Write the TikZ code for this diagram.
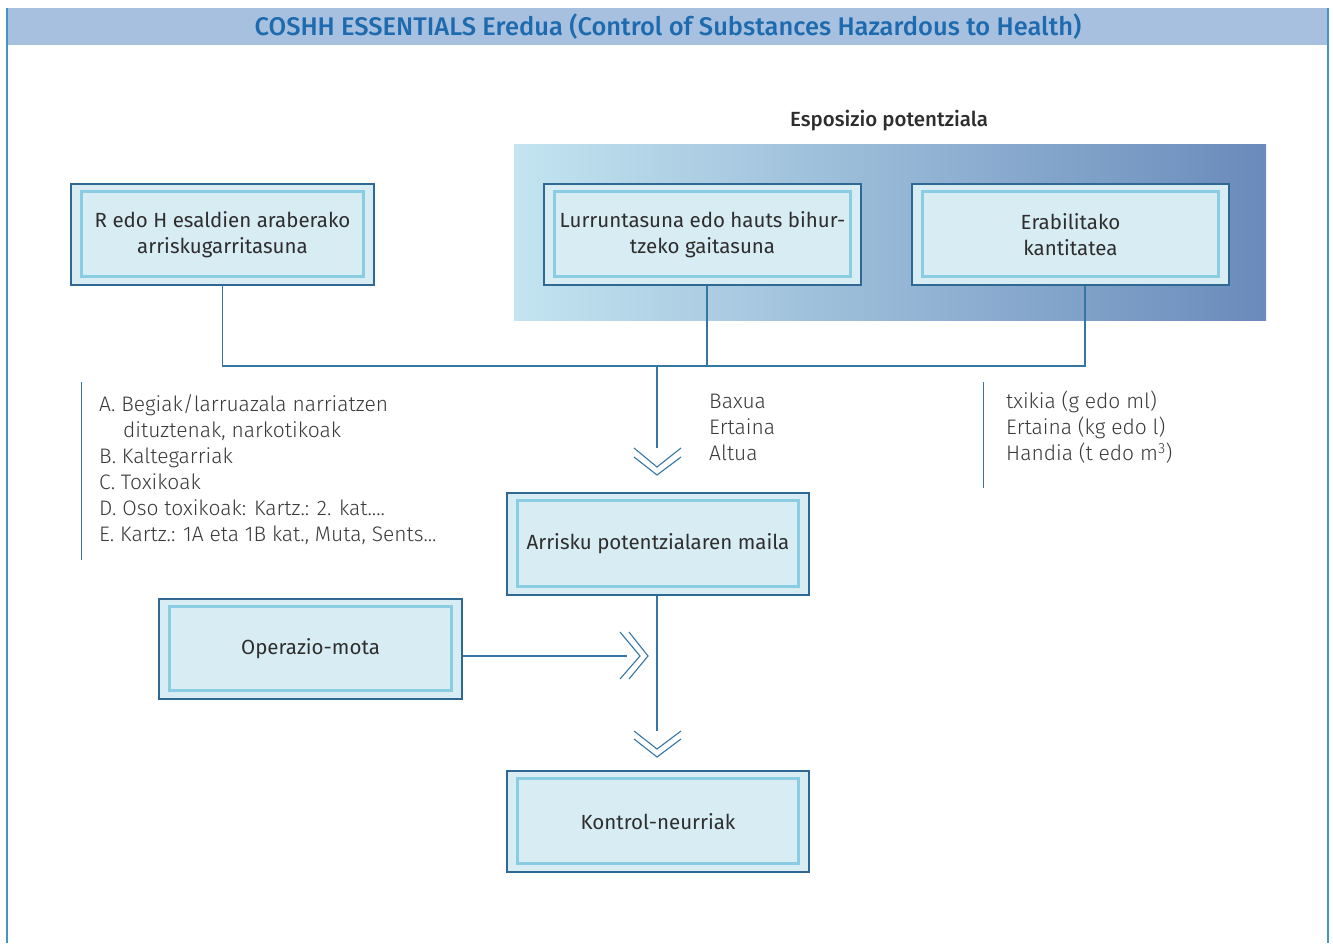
\documentclass[tikz,border=0pt]{standalone}
\usepackage{fontspec}
\setmainfont{Fira Sans}
\newfontfamily\lightf{Fira Sans Light}
\newfontfamily\medf{Fira Sans Medium}
\usetikzlibrary{calc}
\definecolor{titlebar}{HTML}{A7C0DF}
\definecolor{titletext}{HTML}{1D6AAE}
\definecolor{framec}{HTML}{4394C9}
\definecolor{linec}{HTML}{3676A3}
\definecolor{boxfill}{HTML}{D8ECF4}
\definecolor{boxedge}{HTML}{2E6893}
\definecolor{boxinner}{HTML}{8ACDE2}
\definecolor{txt}{HTML}{2E2E2E}
\definecolor{ltxt}{HTML}{3A3A3A}
\definecolor{gradL}{HTML}{C3E4F0}
\definecolor{gradM}{HTML}{A2C5DF}
\definecolor{gradR}{HTML}{6A8BBB}
\tikzset{
  outerbox/.style={draw=boxedge, fill=boxfill, line width=1.2pt, inner sep=0pt,
    align=center, text=txt, font=\fontsize{20.5}{26}\selectfont},
  innerline/.style={draw=boxinner, line width=2.6pt},
  conn/.style={draw=linec, line width=1.3pt},
  chev/.style={draw=linec, line width=1.1pt},
  listtext/.style={anchor=north west, align=left, inner sep=0pt, text=ltxt,
    font=\lightf\fontsize{21}{26}\selectfont},
}
\newcommand{\innerframe}[1]{\draw[innerline] ($(#1.north west)+(11,8)$) rectangle ($(#1.south east)+(-11,-9)$);}
\begin{document}
\begin{tikzpicture}[x=1pt,y=-1pt]
\useasboundingbox (0,0) rectangle (1333,943);
\fill[white] (0,0) rectangle (1333,943);
% title bar and frame
\fill[titlebar] (7,8) rectangle (1328,45);
\node[font=\medf\fontsize{25.5}{28}\selectfont, text=titletext, inner sep=0pt] (title) at (668,27) {COSHH ESSENTIALS Eredua (Control of Substances Hazardous to Health)};
\draw[framec, line width=2pt] (7,8) -- (7,943);
\draw[framec, line width=2pt] (1328,8) -- (1328,943);
% exposure label and gradient
\node[font=\medf\fontsize{20.5}{24}\selectfont, text=txt, inner sep=0pt] (expo) at (889,121) {Esposizio potentziala};
\shade[left color=gradL, middle color=gradM, right color=gradR] (514,144) rectangle (1266,320);
% boxes
\node[outerbox, minimum width=303pt, minimum height=101pt] (b1) at (222.5,234.5) {R edo H esaldien araberako\\arriskugarritasuna};
\innerframe{b1}
\node[outerbox, minimum width=317pt, minimum height=101pt] (b2) at (702.5,234.5) {Lurruntasuna edo hauts bihur-\\tzeko gaitasuna};
\innerframe{b2}
\node[outerbox, minimum width=317pt, minimum height=101pt] (b3) at (1070.5,234.5) {Erabilitako\\kantitatea};
\innerframe{b3}
\node[outerbox, minimum width=302pt, minimum height=102pt] (b4) at (658,544) {Arrisku potentzialaren maila};
\innerframe{b4}
\node[outerbox, minimum width=303pt, minimum height=100pt] (b5) at (310.5,649) {Operazio-mota};
\innerframe{b5}
\node[outerbox, minimum width=302pt, minimum height=101pt] (b6) at (658,821.5) {Kontrol-neurriak};
\innerframe{b6}
% connectors top
\coordinate (jl) at (222.5,366);
\coordinate (jm) at (707,366);
\coordinate (jr) at (1085,366);
\coordinate (jc) at (657,366);
\coordinate (a1) at (657,448);
\draw[conn] (b1.south) -- (jl) -- (jr) -- ($(b3.south)+(14.5,0)$);
\draw[conn] ($(b2.south)+(4.5,0)$) -- (jm);
\draw[conn] (jc) -- (a1);
\draw[chev] (634,448) -- (657,467) -- (681,448);
\draw[chev] (634,457) -- (657,475) -- (681,457);
% middle connectors
\coordinate (a2) at (657,731);
\draw[conn] ($(b4.south)+(-1,0)$) -- (a2);
\draw[chev] (634,731) -- (657,749) -- (681,731);
\draw[chev] (634,739) -- (657,757) -- (681,739);
\coordinate (a3) at (627,656);
\draw[conn] ($(b5.east)+(0,7)$) -- (a3);
\draw[chev] (620,632) -- (640,656) -- (620,679);
\draw[chev] (629,632) -- (648,656) -- (629,679);
% lists
\draw[conn, line width=1pt] (81,382) -- (81,560);
\node[listtext] (la) at (99,394) {A. Begiak/larruazala narriatzen\\\hspace*{24pt}dituztenak, narkotikoak\\B. Kaltegarriak\\C. Toxikoak\\D. Oso toxikoak: Kartz.: 2. kat....\\E. Kartz.: 1A eta 1B kat., Muta, Sents...};
\node[listtext] (lm) at (709,394) {Baxua\\Ertaina\\Altua};
\draw[conn, line width=1pt] (983,382) -- (983,488);
\node[listtext] (lr) at (1006,391) {txikia (g edo ml)\\Ertaina (kg edo l)\\Handia (t edo m\textsuperscript{3})};
\end{tikzpicture}
\end{document}
